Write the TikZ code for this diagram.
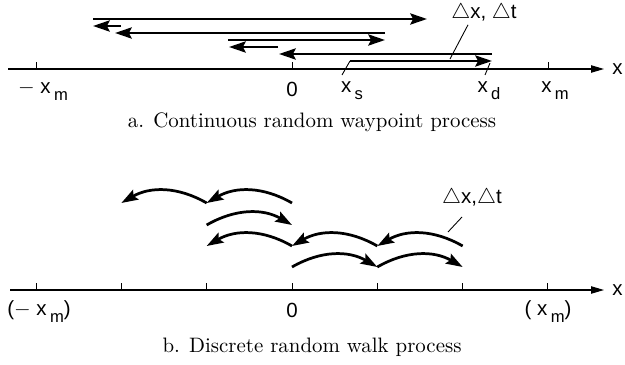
\documentclass[tikz,border=0pt]{standalone}
\usepackage{fontspec}
\newfontfamily\lblfont{Liberation Sans}
\usetikzlibrary{arrows.meta,positioning}

\newcommand\lsub[1]{\,\raisebox{-0.65ex}{\fontsize{8.5}{10}\selectfont #1}}

\begin{document}
\begin{tikzpicture}[
  x=0.018cm,y=-0.018cm,
  axis/.style={line width=0.55pt,-{Triangle[length=2.3mm,width=1.3mm]}},
  tick/.style={line width=0.5pt},
  hop/.style={line width=1.4pt,-{Stealth[length=3mm,width=2mm,inset=0.5mm]}},
  lead/.style={line width=0.45pt},
  lbl/.style={font=\lblfont\fontsize{10.5}{12}\selectfont,inner sep=1pt},
  capt/.style={font=\fontsize{10.7}{13}\selectfont,inner sep=1pt}
]
\useasboundingbox (0,0) rectangle (625,365);

% (a) continuous random waypoint
\coordinate (aL) at (8,69);
\coordinate (aR) at (604,69);
\draw[axis] (aL) -- (aR);
\node[lbl,anchor=west,inner sep=0pt] (ax) at (612,69) {x};
\foreach \t/\n in {36/amin,292/azero,548/amax}
  \draw[tick] (\t,69) coordinate (\n) -- (\t,62);

\coordinate (p1) at (93,19);   \coordinate (q1) at (427,19);
\coordinate (p2) at (121,26);  \coordinate (q2) at (93,26);
\coordinate (p3) at (385,33);  \coordinate (q3) at (115,33);
\coordinate (p4) at (228,40);  \coordinate (q4) at (385,40);
\coordinate (p5) at (278,47);  \coordinate (q5) at (229,47);
\coordinate (p6) at (492,54);  \coordinate (q6) at (279,54);
\coordinate (p7) at (350,61);  \coordinate (q7) at (492,61);

\draw[hop] (p1) -- (q1);
\draw[hop] (p2) -- (q2);
\draw[hop] (p3) -- (q3);
\draw[hop] (p4) -- (q4);
\draw[hop] (p5) -- (q5);
\draw[hop] (p6) -- (q6);
\draw[hop] (p7) -- (q7);

\draw[lead] (342,75) -- (p7);
\draw[lead] (485,75) -- (490,63);

\node[lbl] (ad) at (484,13) {$\triangle$x, $\triangle$t};
\draw[lead] (450,59) -- (ad.south -| 468,0);

\node[lbl] (amlbl) at (43,91) {$-$ x\lsub{m}};
\node[lbl] (a0) at (292,89) {0};
\node[lbl] (aslbl) at (352,91) {x\lsub{s}};
\node[lbl] (adlbl) at (489,91) {x\lsub{d}};
\node[lbl] (aplbl) at (555,91) {x\lsub{m}};

\node[capt] (capa) at (312,122) {a. Continuous random waypoint process};

% (b) discrete random walk
\coordinate (bL) at (10,290);
\coordinate (bR) at (604,290);
\draw[axis] (bL) -- (bR);
\node[lbl,anchor=west,inner sep=0pt] (bx) at (612,290) {x};
\foreach \k in {0,...,6}
  \draw[tick] ({36+85.33*\k},290) coordinate (b\k) -- ({36+85.33*\k},283);

\foreach \k in {1,...,5}{
  \coordinate (r1\k) at ({36+85.33*\k},203);
  \coordinate (r2\k) at ({36+85.33*\k},225);
  \coordinate (r3\k) at ({36+85.33*\k},246);
  \coordinate (r4\k) at ({36+85.33*\k},267);
}

\draw[hop] (r13) to[bend right=30] (r12);
\draw[hop] (r12) to[bend right=30] (r11);
\draw[hop] (r22) to[bend left=30] (r23);
\draw[hop] (r33) to[bend right=30] (r32);
\draw[hop] (r34) to[bend right=30] (r33);
\draw[hop] (r35) to[bend right=30] (r34);
\draw[hop] (r43) to[bend left=30] (r44);
\draw[hop] (r44) to[bend left=30] (r45);

\node[lbl] (bd) at (472,198) {$\triangle$x,$\triangle$t};
\draw[lead] (448,232) -- (462,217);

\node[lbl] (bmlbl) at (39,312) {($-$ x\lsub{m})};
\node[lbl] (b0) at (292,310) {0};
\node[lbl] (bplbl) at (548,312) {( x\lsub{m})};

\node[capt] (capb) at (312,347) {b. Discrete random walk process};
\end{tikzpicture}
\end{document}
